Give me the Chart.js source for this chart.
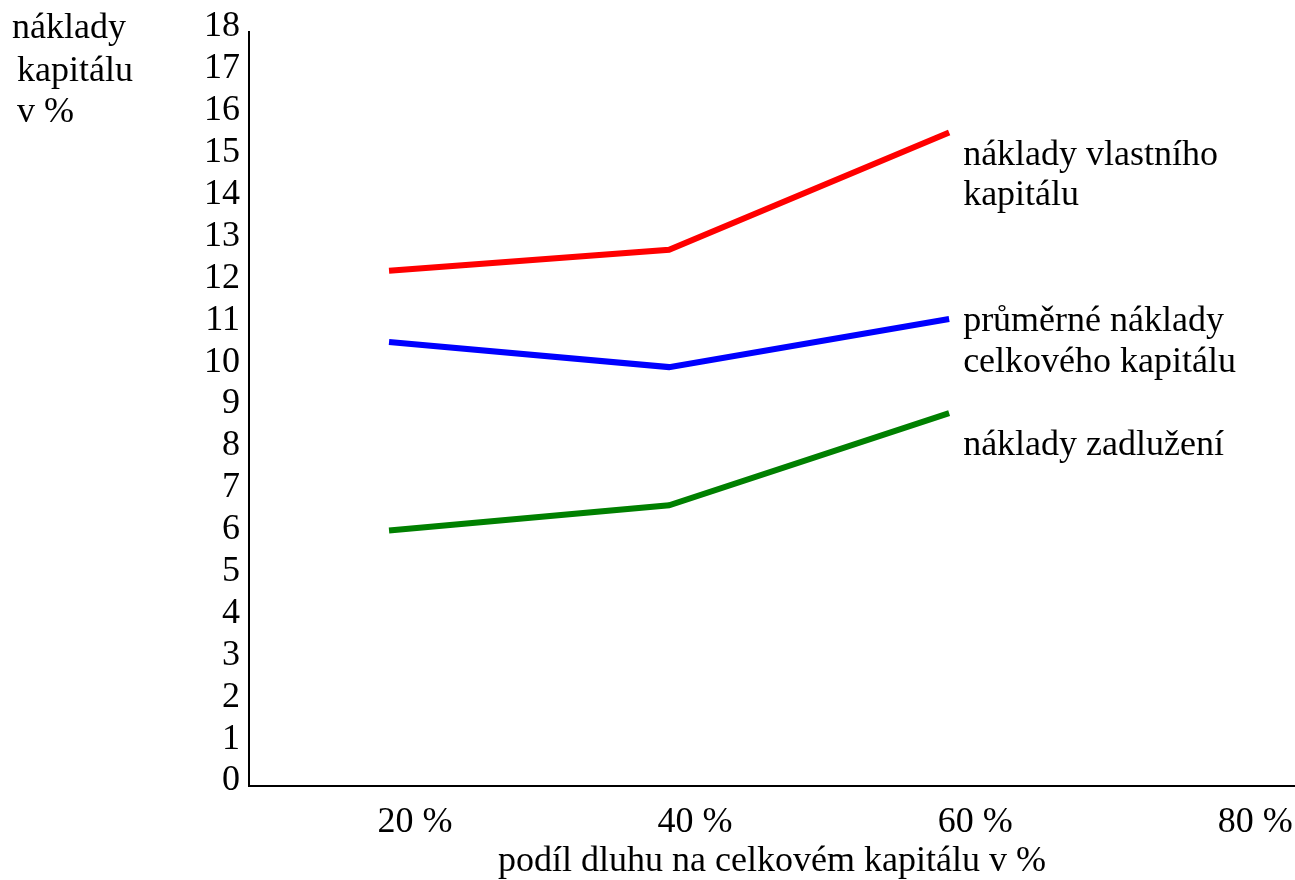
<!DOCTYPE html>
<html>
<head>
<meta charset="utf-8">
<script src="https://cdn.jsdelivr.net/npm/chart.js@4.4.1/dist/chart.umd.min.js"></script>
<style>
  html, body { margin: 0; padding: 0; background: #fff; }
  #wrap { width: 1295px; height: 880px; }
</style>
</head>
<body>
<div id="wrap"><canvas id="costChart"></canvas></div>
<script>
// podíl dluhu na celkovém kapitálu (x) a náklady v % (y)
const debtShare = [20, 40, 60];
const xTicks = [20, 40, 60, 80];
const yTicks = [0, 1, 2, 3, 4, 5, 6, 7, 8, 9, 10, 11, 12, 13, 14, 15, 16, 17, 18];

const equityCost = [12.3, 12.8, 15.6];   // náklady vlastního kapitálu
const averageCost = [10.6, 10.0, 11.15]; // průměrné náklady celkového kapitálu
const debtCost = [6.1, 6.7, 8.9];        // náklady zadlužení

const FONT = "'Liberation Serif', 'Times New Roman', serif";
const SIZE = 36;

function toPoints(values) {
    return debtShare.map((x, i) => ({ x: x, y: values[i] }));
}

// texts drawn next to the lines and the y axis heading
const textPlugin = {
    id: 'texts',
    afterDraw(chart) {
        const ctx = chart.ctx;
        ctx.save();
        ctx.fillStyle = '#000';
        ctx.font = SIZE + 'px ' + FONT;
        ctx.textAlign = 'left';
        ctx.textBaseline = 'alphabetic';
        // y axis heading
        ctx.fillText('náklady', 12, 38);
        ctx.fillText('kapitálu', 17, 81);
        ctx.fillText('v %', 17, 122);
        // line names
        const x = chart.scales.x.getPixelForValue(debtShare[debtShare.length - 1]) + 14;
        ctx.fillText('náklady vlastního', x, 165);
        ctx.fillText('kapitálu', x, 205);
        ctx.fillText('průměrné náklady', x, 331);
        ctx.fillText('celkového kapitálu', x, 372);
        ctx.fillText('náklady zadlužení', x, 455);
        ctx.restore();
    }
};

const ctx = document.getElementById('costChart').getContext('2d');
const costChart = new Chart(ctx, {
    type: 'line',
    data: {
        datasets: [
            {
                label: 'náklady vlastního kapitálu',
                data: toPoints(equityCost),
                borderColor: '#ff0000',
                borderWidth: 6
            },
            {
                label: 'průměrné náklady celkového kapitálu',
                data: toPoints(averageCost),
                borderColor: '#0000ff',
                borderWidth: 6
            },
            {
                label: 'náklady zadlužení',
                data: toPoints(debtCost),
                borderColor: '#008000',
                borderWidth: 6
            }
        ]
    },
    options: {
        responsive: true,
        maintainAspectRatio: false,
        animation: false,
        layout: { padding: { top: 32, right: 0, left: 0, bottom: 0 } },
        elements: {
            point: { radius: 0 },
            line: { tension: 0, borderCapStyle: 'butt', fill: false }
        },
        scales: {
            x: {
                type: 'linear',
                min: 10,
                max: 84.7,
                afterBuildTicks(scale) {
                    scale.ticks = xTicks.map(v => ({ value: v }));
                },
                afterFit(scale) {
                    scale.height = 94;
                },
                grid: { drawOnChartArea: false, drawTicks: false, color: 'rgba(0,0,0,0)' },
                border: { display: true, color: '#000', width: 2 },
                ticks: {
                    color: '#000',
                    font: { family: FONT, size: SIZE },
                    padding: 15,
                    labelOffset: 26,
                    maxRotation: 0,
                    autoSkip: false,
                    callback: (value) => value + ' %'
                },
                title: {
                    display: true,
                    text: 'podíl dluhu na celkovém kapitálu v %',
                    color: '#000',
                    font: { family: FONT, size: SIZE, lineHeight: 1.0 },
                    padding: { top: 0, bottom: 0 }
                }
            },
            y: {
                min: 0,
                max: 18,
                afterBuildTicks(scale) {
                    scale.ticks = yTicks.map(v => ({ value: v }));
                },
                afterFit(scale) {
                    scale.width = 249;
                },
                grid: { drawOnChartArea: false, drawTicks: false, color: 'rgba(0,0,0,0)' },
                border: { display: true, color: '#000', width: 2 },
                ticks: {
                    color: '#000',
                    font: { family: FONT, size: SIZE },
                    padding: 9,
                    labelOffset: -5,
                    autoSkip: false
                }
            }
        },
        plugins: {
            legend: { display: false },
            tooltip: { enabled: false }
        }
    },
    plugins: [textPlugin]
});
</script>
</body>
</html>
